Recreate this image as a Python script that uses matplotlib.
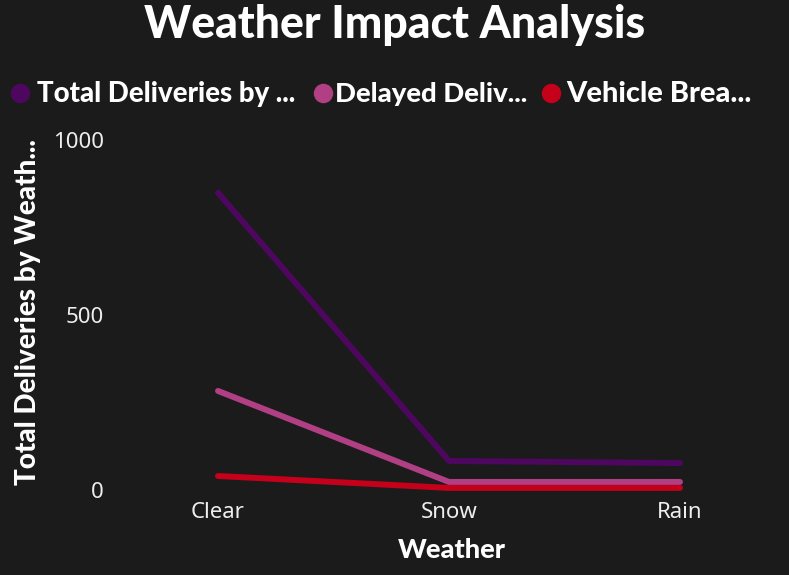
import matplotlib
matplotlib.use("Agg")
import matplotlib.pyplot as plt
from matplotlib.lines import Line2D

# data
weather = ["Clear", "Snow", "Rain"]
total_deliveries = [849, 83, 77]
delayed_deliveries = [283, 23, 23]
vehicle_breakdowns = [40, 6, 6]

legend_labels = ["Total Deliveries by ...", "Delayed Deliv...", "Vehicle Brea..."]
colors = ["#4E075E", "#B03F84", "#C4001A"]

BG = "#1B1B1B"
W, H = 789, 575
COND = ["Lato", "DejaVu Sans"]
REG = ["Noto Sans", "DejaVu Sans"]
HEAVY = 900


def px(x, y):
    return x / W, 1 - y / H


def fit_width(txt, target, horizontal=True):
    # rescale font so the text spans about `target` pixels
    r = fig.canvas.get_renderer()
    bb = txt.get_window_extent(r)
    size = bb.width if horizontal else bb.height
    txt.set_fontsize(txt.get_fontsize() * target / size)


fig = plt.figure(figsize=(W / 100, H / 100), dpi=100, facecolor=BG)
ax = fig.add_axes([115 / W, 1 - 490 / H, 674 / W, 350 / H], facecolor=BG)

series = [total_deliveries, delayed_deliveries, vehicle_breakdowns]
xs = list(range(len(weather)))
for vals, c in zip(series, colors):
    ax.plot(xs, vals, color=c, lw=4.3, solid_capstyle="round", clip_on=False)

ax.set_xlim(-0.446, 2.472)
ax.set_ylim(0, 1000)
ax.set_yticks([0, 500, 1000])
ax.set_xticks(xs)
ax.set_xticklabels(weather)
for s in ax.spines.values():
    s.set_visible(False)
ax.tick_params(length=0, colors="#EEEEEE", labelsize=16, pad=8)
for lab in ax.get_xticklabels() + ax.get_yticklabels():
    lab.set_family(REG)
ax.tick_params(axis="x", pad=9)

# title
x, y = px(395, 25)
t = fig.text(x, y, "Weather Impact Analysis", ha="center", va="center", color="white",
             fontsize=34, fontweight=HEAVY, family=COND)
fit_width(t, 503)

# legend
circle_x = [20, 323, 551]
text_x = [37, 335, 566]
text_w = [259, 193, 186]
for lab, c, cx, tx, tw in zip(legend_labels, colors, circle_x, text_x, text_w):
    fig.add_artist(Line2D([cx / W], [1 - 93 / H], marker="o", markersize=13, color=c,
                          transform=fig.transFigure, lw=0))
    x, y = px(tx, 94)
    t = fig.text(x, y, lab, ha="left", va="center", color="white", fontsize=18,
                 fontweight=HEAVY, family=COND)
    fit_width(t, tw)

# axis titles
x, y = px(28, 312)
t = fig.text(x, y, "Total Deliveries by Weath...", rotation=90, ha="center", va="center",
             color="white", fontsize=19, fontweight=HEAVY, family=COND)
fit_width(t, 345, horizontal=False)
x, y = px(452, 550)
t = fig.text(x, y, "Weather", ha="center", va="center", color="white", fontsize=19,
             fontweight=HEAVY, family=COND)
fit_width(t, 108)

fig.savefig("out.png", dpi=100, facecolor=BG)
